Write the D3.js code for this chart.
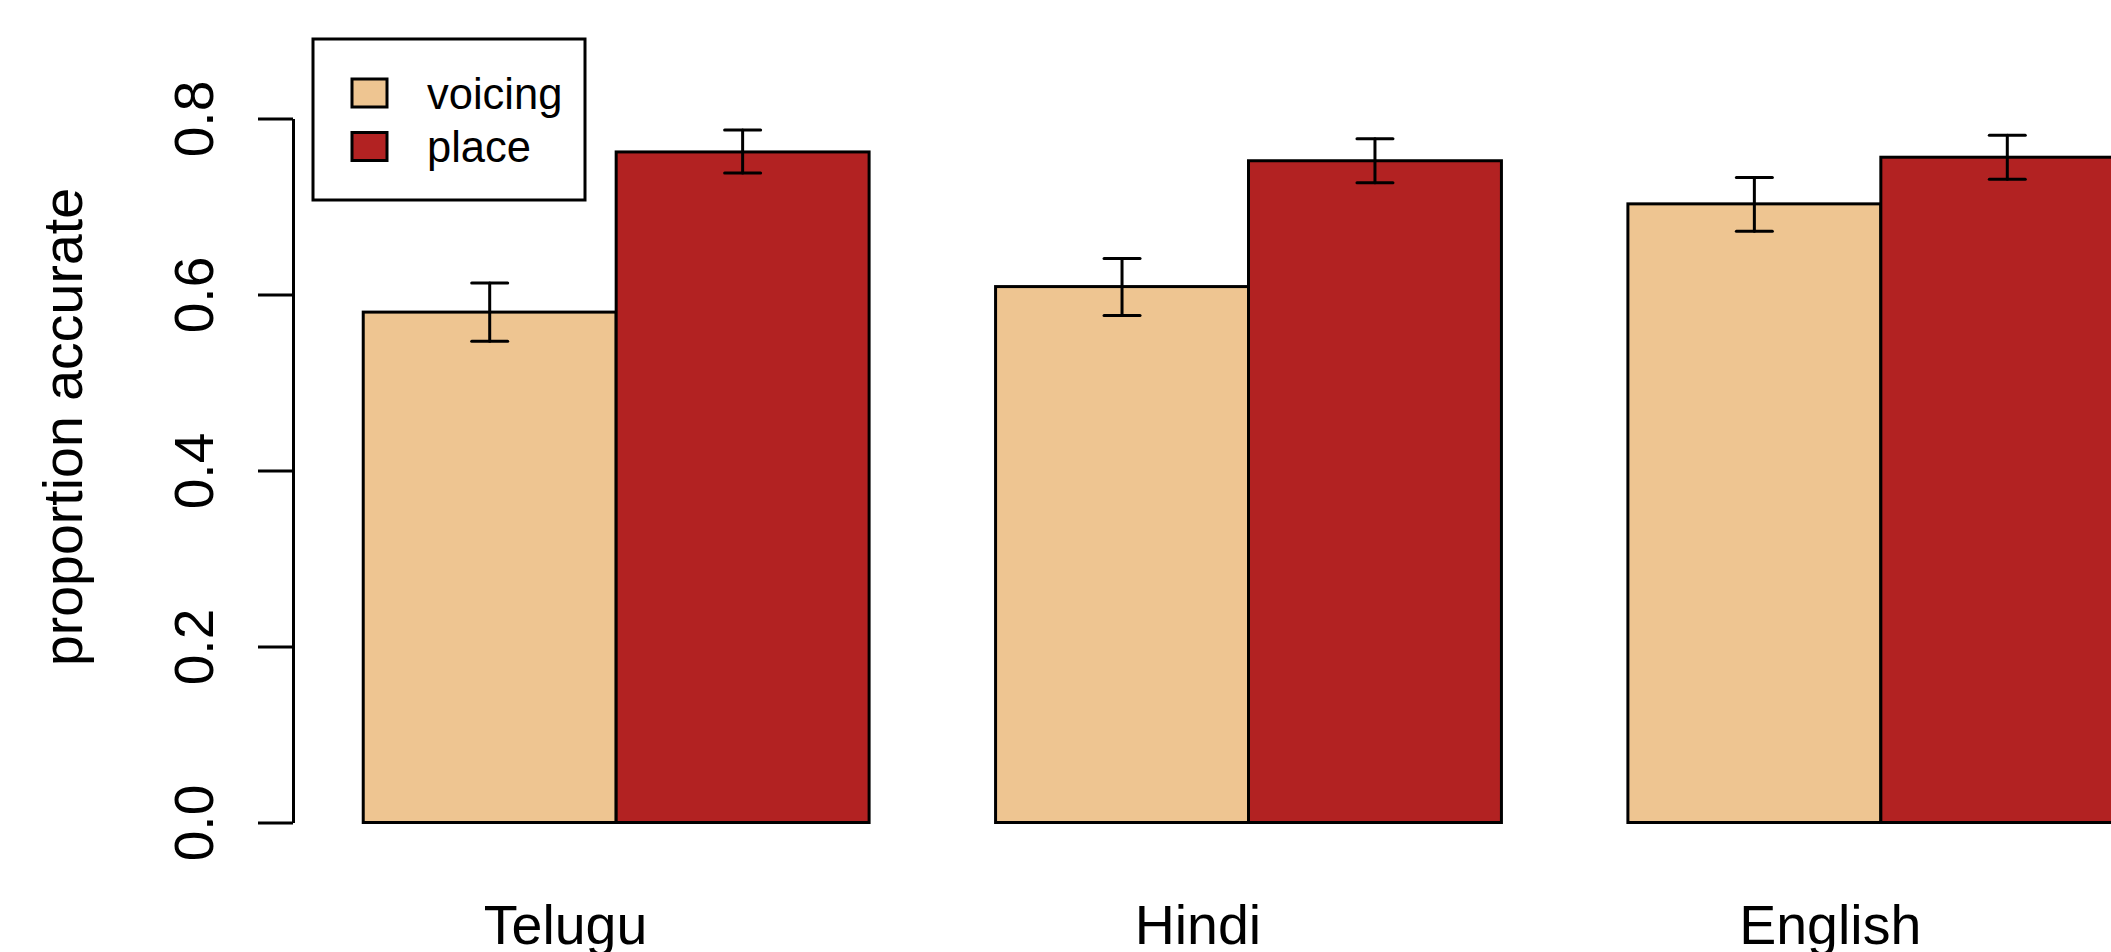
<!DOCTYPE html>
<html>
<head>
<meta charset="utf-8">
<script src="https://cdn.jsdelivr.net/npm/d3@7"></script>
<style>
  html, body { margin: 0; padding: 0; background: #fff; overflow: hidden; }
  text { font-family: "Liberation Sans", Arial, Helvetica, sans-serif; fill: #000; }
</style>
</head>
<body>
<script>
// language groups and the two feature series
var categories = ["Telugu", "Hindi", "English"];
var series = ["voicing", "place"];
var voicing = [0.580, 0.609, 0.703];
var place = [0.762, 0.752, 0.756];
// error bar ends
var voicingLo = [0.547, 0.576, 0.672];
var voicingHi = [0.613, 0.641, 0.733];
var placeLo = [0.738, 0.727, 0.731];
var placeHi = [0.787, 0.777, 0.781];
var yTicks = [0, 0.2, 0.4, 0.6, 0.8];

function init() {
    var w = 2111;
    var h = 952;

    var color = d3.scaleOrdinal()
        .domain(series)
        .range(["#EEC591", "#B22222"]);

    var svg = d3.select("body")
        .append("svg")
        .attr("width", w)
        .attr("height", h);

    // groups of two bars, half a bar width between groups
    var x0 = d3.scaleBand()
        .domain(categories)
        .range([300, 2197])
        .paddingInner(0.2)
        .paddingOuter(0.1);

    var x1 = d3.scaleBand()
        .domain(series)
        .range([0, x0.bandwidth()]);

    var y = d3.scaleLinear()
        .domain([0, 0.8])
        .range([822.5, 118.5]);

    var rows = [];
    categories.forEach(function(c, i) {
        rows.push({cat: c, key: "voicing", v: voicing[i], lo: voicingLo[i], hi: voicingHi[i]});
        rows.push({cat: c, key: "place", v: place[i], lo: placeLo[i], hi: placeHi[i]});
    });

    // bars
    svg.append("g")
        .selectAll("rect")
        .data(rows)
        .enter()
        .append("rect")
        .attr("x", d => x0(d.cat) + x1(d.key))
        .attr("y", d => y(d.v))
        .attr("width", x1.bandwidth())
        .attr("height", d => y(0) - y(d.v))
        .style("fill", d => color(d.key))
        .style("stroke", "#000")
        .style("stroke-width", 3);

    // error bars
    var capHalf = 18;
    var eb = svg.append("g")
        .selectAll("g")
        .data(rows)
        .enter()
        .append("g")
        .attr("transform", d => "translate(" + (x0(d.cat) + x1(d.key) + x1.bandwidth() / 2) + ",0)")
        .style("stroke", "#000")
        .style("stroke-width", 3)
        .style("stroke-linecap", "round");
    eb.append("line")
        .attr("x1", 0).attr("x2", 0)
        .attr("y1", d => y(d.lo)).attr("y2", d => y(d.hi));
    eb.append("line")
        .attr("x1", -capHalf).attr("x2", capHalf)
        .attr("y1", d => y(d.lo)).attr("y2", d => y(d.lo));
    eb.append("line")
        .attr("x1", -capHalf).attr("x2", capHalf)
        .attr("y1", d => y(d.hi)).attr("y2", d => y(d.hi));

    // y axis, R style with rotated labels
    var yAxis = d3.axisLeft(y)
        .tickValues(yTicks)
        .tickSize(35)
        .tickSizeOuter(0)
        .tickFormat(d3.format(".1f"));

    var ga = svg.append("g")
        .attr("transform", "translate(293,0)")
        .call(yAxis);
    ga.select(".domain").style("stroke", "#000").style("stroke-width", 3);
    ga.selectAll(".tick line").style("stroke", "#000").style("stroke-width", 3);
    ga.selectAll(".tick text")
        .attr("transform", "rotate(-90)")
        .attr("x", 0)
        .attr("y", -80)
        .attr("dy", null)
        .attr("text-anchor", "middle")
        .style("font-size", "55px")
        .style("font-family", "\"Liberation Sans\", Arial, sans-serif")
        .style("fill", "#000");

    svg.append("text")
        .attr("transform", "translate(82,427) rotate(-90)")
        .attr("text-anchor", "middle")
        .style("font-size", "55.5px")
        .text("proportion accurate");

    // group names
    svg.append("g")
        .selectAll("text")
        .data(categories)
        .enter()
        .append("text")
        .attr("x", d => x0(d) + x0.bandwidth() / 2 - 0.2 * x1.bandwidth())
        .attr("y", 944)
        .attr("text-anchor", "middle")
        .style("font-size", "55.5px")
        .text(d => d);

    // legend
    var lg = svg.append("g");
    lg.append("rect")
        .attr("x", 313).attr("y", 39)
        .attr("width", 272).attr("height", 161)
        .style("fill", "#fff")
        .style("stroke", "#000")
        .style("stroke-width", 3);
    var items = lg.selectAll("g.item")
        .data(series)
        .enter()
        .append("g")
        .attr("class", "item")
        .attr("transform", (d, i) => "translate(352," + (93 + i * 53.5) + ")");
    items.append("rect")
        .attr("x", 0).attr("y", -14)
        .attr("width", 35).attr("height", 28)
        .style("fill", d => color(d))
        .style("stroke", "#000")
        .style("stroke-width", 3);
    items.append("text")
        .attr("x", 75)
        .attr("y", 0)
        .attr("dy", "0.36em")
        .style("font-size", "43.5px")
        .text(d => d);
}

window.onload = init;
</script>
</body>
</html>
